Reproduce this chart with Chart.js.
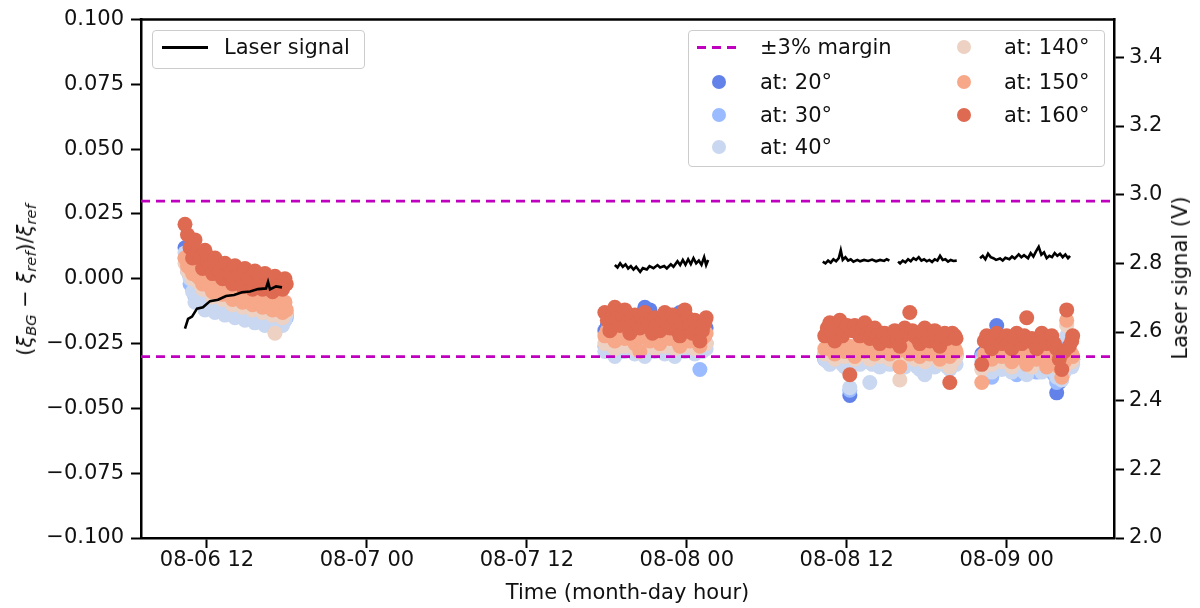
<!DOCTYPE html>
<html>
<head>
<meta charset="utf-8">
<script src="https://cdn.jsdelivr.net/npm/chart.js@4.4.0/dist/chart.umd.min.js"></script>
<style>
  body { margin: 0; background: #fff; font-family: "DejaVu Sans", sans-serif; }
  #wrap { position: relative; width: 1200px; height: 608px; }
  .legend { position: absolute; border: 1px solid #ccc; border-radius: 4px; background: rgba(255,255,255,0.8); }
  .item { position: absolute; font-size: 21px; line-height: 24px; color: #111; white-space: nowrap; }
  .dot { position: absolute; width: 14px; height: 14px; border-radius: 50%; }
  .ytitle { position: absolute; font-size: 21px; color: #111; white-space: nowrap; transform: translate(-50%, -50%) rotate(-90deg); }
  .ytitle i { font-style: oblique; }
  .ytitle sub { font-size: 70%; vertical-align: -0.3em; line-height: 0; }
</style>
</head>
<body>
<div id="wrap">
  <canvas id="chart" width="1200" height="608"></canvas>

  <div class="legend" style="left:152px; top:30px; width:211px; height:37px;"></div>
  <div style="position:absolute; left:162px; top:46px; width:46px; height:2.5px; background:#000;"></div>
  <div class="item" style="left:224px; top:35px;">Laser signal</div>

  <div class="legend" style="left:688px; top:30px; width:415px; height:135px;"></div>
  <div style="position:absolute; left:697px; top:45.5px; width:44px; height:3px; background:repeating-linear-gradient(to right, #bf00bf 0 9px, transparent 9px 15px);"></div>
  <div class="item" style="left:760px; top:35px;">±3% margin</div>
  <div class="dot" style="left:712px; top:74.5px; background:#6282ea;"></div>
  <div class="item" style="left:760px; top:69.5px;">at: 20°</div>
  <div class="dot" style="left:712px; top:108px; background:#9abbff;"></div>
  <div class="item" style="left:760px; top:103px;">at: 30°</div>
  <div class="dot" style="left:712px; top:140px; background:#c9d7f0;"></div>
  <div class="item" style="left:760px; top:135px;">at: 40°</div>
  <div class="dot" style="left:957px; top:40px; background:#edd1c2;"></div>
  <div class="item" style="left:1004px; top:35px;">at: 140°</div>
  <div class="dot" style="left:957px; top:74.5px; background:#f7a889;"></div>
  <div class="item" style="left:1004px; top:69.5px;">at: 150°</div>
  <div class="dot" style="left:957px; top:108px; background:#de6a52;"></div>
  <div class="item" style="left:1004px; top:103px;">at: 160°</div>

  <div class="ytitle" style="left:25px; top:280px;">(<i>ξ</i><sub><i>BG</i></sub> − <i>ξ</i><sub><i>ref</i></sub>)/<i>ξ</i><sub><i>ref</i></sub></div>
  <div class="ytitle" style="left:1180px; top:278px;">Laser signal (V)</div>
</div>
<script>
// time axis in hours counted from 08-06 00:00
const xMin = 7.05;
const xMax = 80.05;
const xTickHours = [12, 24, 36, 48, 60, 72];
const xTickLabels = ['08-06 12', '08-07 00', '08-07 12', '08-08 00', '08-08 12', '08-09 00'];
const yTicks = [-0.1, -0.075, -0.05, -0.025, 0, 0.025, 0.05, 0.075, 0.1];
const laserTicks = [2.0, 2.2, 2.4, 2.6, 2.8, 3.0, 3.2, 3.4];
const marginLevels = [0.03, -0.03];

// measurement times (shared by all angles), four measurement runs
const sampleHours = [
  10.35, 10.54, 10.73, 10.92, 11.10, 11.29, 11.48, 11.67, 11.85, 12.04, 12.23, 12.42, 12.60, 12.79, 12.98, 13.17, 13.35, 13.54, 13.73, 13.92, 14.10,
  14.29, 14.48, 14.67, 14.85, 15.04, 15.23, 15.42, 15.60, 15.79, 15.98, 16.17, 16.35, 16.54, 16.73, 16.92, 17.10, 17.29, 17.48, 17.67, 17.85, 17.95,
  41.85, 42.04, 42.23, 42.42, 42.60, 42.79, 42.98, 43.17, 43.35, 43.54, 43.73, 43.92, 44.10, 44.29, 44.48, 44.67, 44.85, 45.04, 45.23, 45.42, 45.60,
  45.79, 45.98, 46.17, 46.35, 46.54, 46.73, 46.92, 47.10, 47.29, 47.48, 47.67, 47.85, 48.04, 48.23, 48.42, 48.60, 48.79, 48.98, 49.17, 49.35, 49.45,
  58.35, 58.54, 58.73, 58.92, 59.10, 59.29, 59.48, 59.67, 59.85, 60.04, 60.23, 60.42, 60.60, 60.79, 60.98, 61.17, 61.35, 61.54, 61.73, 61.92, 62.10,
  62.29, 62.48, 62.67, 62.85, 63.04, 63.23, 63.42, 63.60, 63.79, 63.98, 64.17, 64.35, 64.54, 64.73, 64.92, 65.10, 65.29, 65.48, 65.67, 65.85, 66.04,
  66.23, 66.42, 66.60, 66.79, 66.98, 67.17, 67.35, 67.54, 67.73, 67.92, 68.10, 68.20,
  70.13, 70.32, 70.50, 70.69, 70.88, 71.07, 71.25, 71.44, 71.63, 71.82, 72.00, 72.19, 72.38, 72.57, 72.75, 72.94, 73.13, 73.32, 73.50,
  73.69, 73.88, 74.07, 74.25, 74.44, 74.63, 74.82, 75.00, 75.19, 75.38, 75.57, 75.75, 75.94, 76.13, 76.32, 76.50, 76.69, 76.88, 76.95
];

const at20 = [
  0.012, 0.006, 0.001, -0.003, -0.006, -0.005, -0.004, -0.007, -0.009, -0.007, -0.006, -0.008, -0.010, -0.009, -0.008, -0.009, -0.011, -0.010, -0.009, -0.010, -0.012,
  -0.011, -0.010, -0.011, -0.013, -0.012, -0.011, -0.012, -0.014, -0.013, -0.012, -0.013, -0.015, -0.014, -0.013, -0.014, -0.016, -0.015, -0.014, -0.015, -0.015, -0.014,
  -0.020, -0.018, -0.016, -0.019, -0.022, -0.020, -0.018, -0.019, -0.021, -0.019, -0.017, -0.020, -0.023, -0.021, -0.019, -0.016, -0.011, -0.014, -0.012, -0.018, -0.020,
  -0.019, -0.018, -0.020, -0.022, -0.019, -0.015, -0.018, -0.019, -0.017, -0.013, -0.018, -0.021, -0.019, -0.017, -0.020, -0.022, -0.021, -0.019, -0.020, -0.020, -0.019,
  -0.031, -0.030, -0.030, -0.028, -0.027, -0.028, -0.029, -0.030, -0.031, -0.030, -0.045, -0.029, -0.028, -0.029, -0.030, -0.028, -0.027, -0.028, -0.029, -0.030, -0.031,
  -0.029, -0.028, -0.029, -0.030, -0.028, -0.027, -0.028, -0.029, -0.030, -0.031, -0.029, -0.028, -0.029, -0.030, -0.028, -0.027, -0.028, -0.029, -0.030, -0.032, -0.030,
  -0.028, -0.029, -0.030, -0.028, -0.027, -0.028, -0.029, -0.030, -0.031, -0.029, -0.028, -0.029,
  -0.029, -0.031, -0.033, -0.031, -0.030, -0.029, -0.018, -0.030, -0.032, -0.031, -0.029, -0.031, -0.033, -0.032, -0.031, -0.032, -0.034, -0.032, -0.030,
  -0.031, -0.033, -0.034, -0.035, -0.033, -0.032, -0.031, -0.030, -0.032, -0.034, -0.036, -0.044, -0.040, -0.038, -0.031, -0.025, -0.029, -0.032, -0.031
];
const at30 = [
  0.008, 0.003, -0.002, -0.004, -0.007, -0.006, -0.005, -0.008, -0.010, -0.008, -0.007, -0.009, -0.011, -0.010, -0.009, -0.010, -0.012, -0.011, -0.010, -0.011, -0.013,
  -0.012, -0.011, -0.012, -0.014, -0.013, -0.012, -0.013, -0.015, -0.014, -0.013, -0.014, -0.016, -0.015, -0.014, -0.015, -0.017, -0.016, -0.015, -0.016, -0.016, -0.015,
  -0.026, -0.025, -0.023, -0.025, -0.027, -0.026, -0.024, -0.026, -0.027, -0.025, -0.023, -0.026, -0.028, -0.026, -0.025, -0.026, -0.027, -0.025, -0.024, -0.025, -0.026,
  -0.025, -0.023, -0.025, -0.027, -0.026, -0.025, -0.026, -0.028, -0.026, -0.024, -0.025, -0.026, -0.025, -0.023, -0.025, -0.027, -0.026, -0.035, -0.026, -0.025, -0.025,
  -0.029, -0.030, -0.031, -0.029, -0.028, -0.029, -0.030, -0.031, -0.032, -0.031, -0.043, -0.030, -0.029, -0.030, -0.031, -0.029, -0.028, -0.029, -0.030, -0.031, -0.032,
  -0.030, -0.029, -0.030, -0.031, -0.029, -0.028, -0.029, -0.030, -0.031, -0.032, -0.030, -0.029, -0.030, -0.031, -0.029, -0.028, -0.029, -0.030, -0.031, -0.033, -0.031,
  -0.029, -0.030, -0.031, -0.029, -0.028, -0.029, -0.030, -0.031, -0.032, -0.030, -0.029, -0.030,
  -0.030, -0.032, -0.035, -0.036, -0.038, -0.035, -0.032, -0.033, -0.034, -0.032, -0.031, -0.033, -0.035, -0.036, -0.037, -0.035, -0.033, -0.034, -0.035,
  -0.033, -0.032, -0.034, -0.036, -0.035, -0.034, -0.032, -0.031, -0.033, -0.035, -0.037, -0.040, -0.038, -0.037, -0.032, -0.024, -0.029, -0.033, -0.032
];
const at40 = [
  0.010, 0.004, 0.000, -0.005, -0.009, -0.006, -0.003, -0.008, -0.012, -0.009, -0.005, -0.010, -0.013, -0.010, -0.007, -0.011, -0.014, -0.011, -0.008, -0.012, -0.015,
  -0.012, -0.009, -0.013, -0.016, -0.013, -0.010, -0.014, -0.017, -0.014, -0.011, -0.015, -0.018, -0.015, -0.012, -0.016, -0.020, -0.016, -0.013, -0.018, -0.016, -0.014,
  -0.028, -0.027, -0.025, -0.028, -0.030, -0.027, -0.026, -0.028, -0.028, -0.027, -0.025, -0.027, -0.029, -0.028, -0.027, -0.028, -0.030, -0.028, -0.026, -0.027, -0.028,
  -0.027, -0.025, -0.027, -0.029, -0.028, -0.027, -0.028, -0.030, -0.028, -0.026, -0.027, -0.028, -0.027, -0.025, -0.027, -0.029, -0.028, -0.027, -0.028, -0.026, -0.027,
  -0.031, -0.032, -0.033, -0.031, -0.030, -0.031, -0.032, -0.033, -0.034, -0.032, -0.042, -0.032, -0.031, -0.032, -0.033, -0.031, -0.030, -0.032, -0.040, -0.033, -0.032,
  -0.033, -0.034, -0.032, -0.031, -0.032, -0.033, -0.031, -0.030, -0.031, -0.032, -0.033, -0.034, -0.032, -0.031, -0.032, -0.033, -0.034, -0.035, -0.033, -0.037, -0.034,
  -0.032, -0.033, -0.034, -0.032, -0.031, -0.032, -0.033, -0.034, -0.035, -0.033, -0.032, -0.033,
  -0.032, -0.033, -0.034, -0.035, -0.036, -0.034, -0.033, -0.034, -0.035, -0.033, -0.032, -0.034, -0.036, -0.034, -0.033, -0.034, -0.035, -0.036, -0.037,
  -0.035, -0.034, -0.033, -0.032, -0.034, -0.036, -0.034, -0.033, -0.034, -0.035, -0.036, -0.038, -0.038, -0.039, -0.036, -0.022, -0.030, -0.034, -0.033
];
const at140 = [
  0.006, 0.003, 0.002, 0.000, 0.003, -0.001, -0.002, -0.004, 0.000, -0.003, -0.005, -0.007, -0.002, -0.005, -0.006, -0.008, -0.004, -0.007, -0.008, -0.010, -0.005,
  -0.008, -0.009, -0.011, -0.006, -0.010, -0.010, -0.012, -0.008, -0.011, -0.011, -0.013, -0.009, -0.012, -0.013, -0.014, -0.021, -0.013, -0.014, -0.015, -0.011, -0.013,
  -0.025, -0.024, -0.022, -0.025, -0.027, -0.024, -0.023, -0.025, -0.026, -0.024, -0.022, -0.025, -0.027, -0.025, -0.024, -0.025, -0.026, -0.024, -0.023, -0.025, -0.027,
  -0.025, -0.024, -0.025, -0.026, -0.024, -0.022, -0.025, -0.027, -0.025, -0.024, -0.025, -0.026, -0.024, -0.023, -0.025, -0.027, -0.026, -0.025, -0.024, -0.024, -0.025,
  -0.029, -0.028, -0.027, -0.029, -0.031, -0.029, -0.028, -0.029, -0.030, -0.029, -0.028, -0.030, -0.031, -0.030, -0.029, -0.028, -0.027, -0.029, -0.031, -0.030, -0.029,
  -0.029, -0.030, -0.029, -0.028, -0.030, -0.031, -0.030, -0.029, -0.030, -0.039, -0.030, -0.030, -0.029, -0.028, -0.030, -0.031, -0.030, -0.029, -0.031, -0.032, -0.031,
  -0.030, -0.029, -0.028, -0.030, -0.032, -0.031, -0.030, -0.032, -0.034, -0.032, -0.031, -0.030,
  -0.035, -0.032, -0.031, -0.032, -0.033, -0.031, -0.029, -0.031, -0.032, -0.031, -0.030, -0.032, -0.034, -0.031, -0.029, -0.031, -0.032, -0.031, -0.030,
  -0.032, -0.034, -0.032, -0.031, -0.030, -0.029, -0.031, -0.033, -0.032, -0.031, -0.032, -0.034, -0.035, -0.036, -0.034, -0.018, -0.029, -0.032, -0.031
];
const at150 = [
  0.008, 0.005, 0.004, 0.002, 0.005, 0.001, 0.000, -0.002, 0.002, -0.001, -0.003, -0.005, 0.000, -0.003, -0.004, -0.006, -0.002, -0.005, -0.006, -0.008, -0.003,
  -0.006, -0.007, -0.009, -0.004, -0.008, -0.008, -0.010, -0.006, -0.009, -0.009, -0.011, -0.007, -0.010, -0.011, -0.012, -0.008, -0.011, -0.012, -0.013, -0.009, -0.012,
  -0.022, -0.020, -0.018, -0.022, -0.024, -0.021, -0.020, -0.022, -0.023, -0.021, -0.019, -0.023, -0.025, -0.022, -0.028, -0.021, -0.021, -0.023, -0.024, -0.021, -0.019,
  -0.022, -0.025, -0.023, -0.021, -0.022, -0.023, -0.021, -0.020, -0.024, -0.026, -0.022, -0.022, -0.023, -0.024, -0.022, -0.021, -0.024, -0.026, -0.023, -0.022, -0.021,
  -0.027, -0.026, -0.024, -0.027, -0.029, -0.026, -0.025, -0.027, -0.028, -0.027, -0.026, -0.028, -0.030, -0.027, -0.025, -0.027, -0.028, -0.027, -0.026, -0.028, -0.029,
  -0.028, -0.027, -0.026, -0.025, -0.027, -0.029, -0.028, -0.027, -0.028, -0.034, -0.027, -0.026, -0.028, -0.029, -0.028, -0.027, -0.028, -0.030, -0.028, -0.026, -0.028,
  -0.029, -0.028, -0.027, -0.029, -0.031, -0.029, -0.028, -0.029, -0.030, -0.028, -0.027, -0.028,
  -0.040, -0.029, -0.028, -0.029, -0.031, -0.028, -0.027, -0.029, -0.030, -0.029, -0.028, -0.030, -0.032, -0.029, -0.027, -0.029, -0.030, -0.031, -0.033,
  -0.030, -0.028, -0.029, -0.031, -0.029, -0.027, -0.030, -0.034, -0.030, -0.029, -0.030, -0.031, -0.034, -0.038, -0.032, -0.016, -0.027, -0.029, -0.030
];
const at160 = [
  0.021, 0.017, 0.012, 0.008, 0.015, 0.010, 0.008, 0.004, 0.011, 0.007, 0.005, 0.002, 0.008, 0.004, 0.003, 0.000, 0.006, 0.002, 0.002, -0.002, 0.005,
  0.001, 0.001, -0.003, 0.004, 0.000, 0.000, -0.004, 0.003, -0.001, -0.001, -0.004, 0.002, -0.002, -0.002, -0.005, 0.001, -0.003, -0.003, -0.004, 0.000, -0.002,
  -0.013, -0.016, -0.020, -0.015, -0.011, -0.015, -0.018, -0.014, -0.012, -0.017, -0.021, -0.016, -0.014, -0.017, -0.019, -0.015, -0.013, -0.016, -0.017, -0.021, -0.015,
  -0.018, -0.020, -0.016, -0.013, -0.017, -0.019, -0.014, -0.016, -0.020, -0.022, -0.017, -0.012, -0.015, -0.018, -0.021, -0.016, -0.019, -0.024, -0.020, -0.017, -0.015,
  -0.022, -0.019, -0.017, -0.021, -0.024, -0.019, -0.016, -0.022, -0.020, -0.018, -0.037, -0.020, -0.018, -0.020, -0.022, -0.019, -0.017, -0.021, -0.023, -0.020, -0.019,
  -0.022, -0.025, -0.021, -0.021, -0.023, -0.024, -0.021, -0.020, -0.023, -0.026, -0.022, -0.019, -0.021, -0.013, -0.020, -0.022, -0.023, -0.025, -0.021, -0.019, -0.023,
  -0.024, -0.021, -0.020, -0.024, -0.026, -0.022, -0.021, -0.023, -0.040, -0.021, -0.022, -0.023,
  -0.033, -0.024, -0.022, -0.025, -0.027, -0.023, -0.021, -0.024, -0.025, -0.023, -0.022, -0.025, -0.027, -0.023, -0.021, -0.024, -0.025, -0.022, -0.015,
  -0.024, -0.023, -0.025, -0.027, -0.023, -0.021, -0.024, -0.025, -0.023, -0.022, -0.025, -0.027, -0.031, -0.035, -0.028, -0.012, -0.026, -0.024, -0.022
];

// laser signal (V), null marks a break in the recording
const laserHours = [
  10.35, 10.58, 10.88, 11.25, 11.70, 12.23, 12.83, 13.43, 14.03, 14.63, 15.23, 15.83, 16.43, 16.58, 16.73, 17.18, 17.63,
  20.0,
  42.6, 42.8, 43.0, 43.2, 43.4, 43.6, 43.8, 44.0, 44.2, 44.5, 44.7, 45.0, 45.2, 45.5, 45.8, 46.0, 46.3, 46.5, 46.8, 47.0, 47.3, 47.5, 47.7, 47.9, 48.1, 48.3, 48.5, 48.7, 48.9, 49.1, 49.3, 49.45, 49.6,
  53.0,
  58.2, 58.4, 58.6, 58.8, 59.0, 59.2, 59.4, 59.55, 59.7, 59.9, 60.1, 60.3, 60.5, 60.8, 61.0, 61.3, 61.6, 61.9, 62.2, 62.5, 62.8, 63.0, 63.2,
  63.5,
  63.85, 64.0, 64.2, 64.4, 64.6, 64.8, 65.0, 65.2, 65.4, 65.6, 65.8, 66.0, 66.2, 66.4, 66.6, 66.8, 67.0, 67.2, 67.4, 67.6, 67.8, 68.0, 68.25,
  69.0,
  70.0, 70.2, 70.4, 70.6, 70.8, 71.0, 71.2, 71.5, 71.7, 71.9, 72.2, 72.4, 72.6, 72.9, 73.1, 73.3, 73.6, 73.8, 74.0, 74.2, 74.4, 74.6, 74.8, 75.0, 75.2, 75.4, 75.6, 75.8, 76.0, 76.2, 76.4, 76.6, 76.75
];
const laserVolts = [
  2.610, 2.638, 2.645, 2.668, 2.672, 2.690, 2.694, 2.705, 2.708, 2.716, 2.718, 2.725, 2.727, 2.746, 2.724, 2.733, 2.730,
  null,
  2.795, 2.788, 2.800, 2.790, 2.797, 2.785, 2.792, 2.782, 2.790, 2.775, 2.786, 2.782, 2.792, 2.786, 2.795, 2.788, 2.792, 2.785, 2.797, 2.790, 2.806, 2.795, 2.810, 2.796, 2.812, 2.798, 2.815, 2.800, 2.808, 2.796, 2.818, 2.795, 2.810,
  null,
  2.805, 2.800, 2.808, 2.802, 2.812, 2.806, 2.815, 2.838, 2.810, 2.818, 2.808, 2.812, 2.805, 2.810, 2.806, 2.810, 2.807, 2.811, 2.806, 2.810, 2.807, 2.812, 2.808,
  null,
  2.805, 2.800, 2.808, 2.803, 2.812, 2.806, 2.815, 2.810, 2.818, 2.808, 2.812, 2.806, 2.810, 2.804, 2.812, 2.808, 2.822, 2.810, 2.812, 2.805, 2.810, 2.807, 2.808,
  null,
  2.815, 2.822, 2.812, 2.828, 2.818, 2.815, 2.810, 2.814, 2.808, 2.816, 2.812, 2.820, 2.814, 2.826, 2.818, 2.824, 2.815, 2.830, 2.820, 2.835, 2.848, 2.825, 2.832, 2.815, 2.822, 2.818, 2.830, 2.822, 2.828, 2.818, 2.826, 2.815, 2.822
];

const angleLabels = ['at: 20°', 'at: 30°', 'at: 40°', 'at: 140°', 'at: 150°', 'at: 160°'];
const angleColors = ['#6282ea', '#9abbff', '#c9d7f0', '#edd1c2', '#f7a889', '#de6a52'];
const angleSeries = [at20, at30, at40, at140, at150, at160];

const tickFont = { family: 'DejaVu Sans', size: 21 };
const inkColor = '#111';

Chart.defaults.font.family = 'DejaVu Sans';
Chart.defaults.font.size = 21;
Chart.defaults.color = inkColor;

// top spine, Chart.js only draws the three axis borders
const frameTop = {
  id: 'frameTop',
  afterDraw(chart) {
    const { ctx, chartArea: a } = chart;
    ctx.save();
    ctx.strokeStyle = '#000';
    ctx.lineWidth = 2.5;
    ctx.beginPath();
    ctx.moveTo(a.left - 1.25, a.top);
    ctx.lineTo(a.right + 1.25, a.top);
    ctx.stroke();
    ctx.restore();
  }
};

const datasets = [];
datasets.push({
  type: 'line',
  label: 'Laser signal',
  data: laserHours.map((h, i) => ({ x: h, y: laserVolts[i] })),
  yAxisID: 'y1',
  borderColor: '#000',
  borderWidth: 2.6,
  pointRadius: 0,
  spanGaps: false,
  order: 0
});
marginLevels.forEach(function(level) {
  datasets.push({
    type: 'line',
    label: '±3% margin',
    data: [{ x: xMin, y: level }, { x: xMax, y: level }],
    yAxisID: 'y',
    borderColor: '#bf00bf',
    borderDash: [9, 6],
    borderWidth: 2.8,
    pointRadius: 0,
    order: 1
  });
});
angleSeries.forEach(function(values, i) {
  datasets.push({
    type: 'scatter',
    label: angleLabels[i],
    data: sampleHours.map((h, j) => ({ x: h, y: values[j] })),
    yAxisID: 'y',
    backgroundColor: angleColors[i],
    borderWidth: 0,
    pointRadius: 7.5,
    pointHoverRadius: 7.5,
    order: 7 - i
  });
});

const axisGrid = { drawOnChartArea: false, drawTicks: true, tickLength: 10, tickWidth: 2, tickColor: '#000' };
const axisBorder = { display: true, color: '#000', width: 2.5 };

new Chart(document.getElementById('chart').getContext('2d'), {
  type: 'scatter',
  data: { datasets: datasets },
  options: {
    responsive: false,
    animation: false,
    events: [],
    layout: { padding: { top: 18, left: 0, right: 0, bottom: 0 } },
    plugins: {
      legend: { display: false },
      tooltip: { enabled: false }
    },
    scales: {
      x: {
        type: 'linear',
        min: xMin,
        max: xMax,
        afterBuildTicks: function(scale) {
          scale.ticks = xTickHours.map(v => ({ value: v }));
        },
        afterFit: function(scale) { scale.height = 70; },
        ticks: {
          autoSkip: false,
          maxRotation: 0,
          padding: 0,
          font: tickFont,
          color: inkColor,
          callback: function(value, index) { return xTickLabels[index]; }
        },
        grid: axisGrid,
        border: axisBorder,
        title: {
          display: true,
          text: 'Time (month-day hour)',
          font: tickFont,
          color: inkColor,
          padding: { top: 0, bottom: 2 }
        }
      },
      y: {
        type: 'linear',
        position: 'left',
        min: -0.1,
        max: 0.1,
        afterBuildTicks: function(scale) {
          scale.ticks = yTicks.map(v => ({ value: v }));
        },
        afterFit: function(scale) { scale.width = 141; },
        ticks: {
          padding: 7,
          font: tickFont,
          color: inkColor,
          callback: function(value) {
            return (value < -1e-9 ? '\u2212' : '') + Math.abs(value).toFixed(3);
          }
        },
        grid: axisGrid,
        border: axisBorder
      },
      y1: {
        type: 'linear',
        position: 'right',
        min: 2.0,
        max: 3.51,
        afterBuildTicks: function(scale) {
          scale.ticks = laserTicks.map(v => ({ value: v }));
        },
        afterFit: function(scale) { scale.width = 86; },
        ticks: {
          padding: 5,
          font: tickFont,
          color: inkColor,
          callback: function(value) { return value.toFixed(1); }
        },
        grid: axisGrid,
        border: axisBorder
      }
    }
  },
  plugins: [frameTop]
});
</script>
</body>
</html>
